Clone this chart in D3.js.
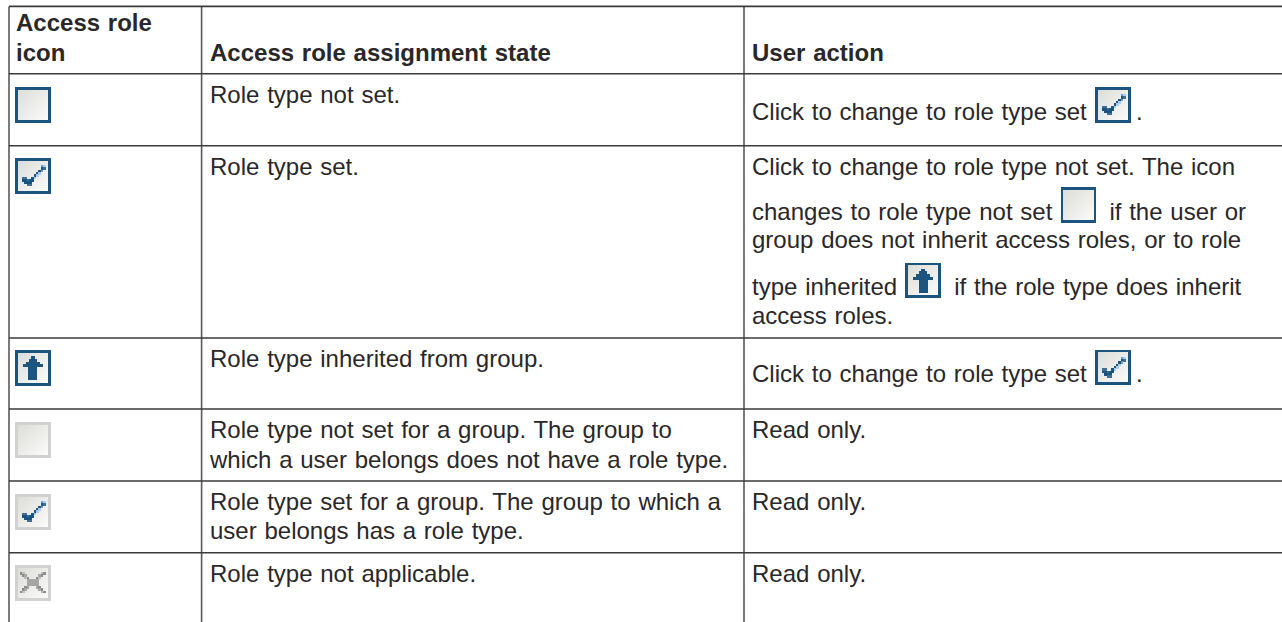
<!DOCTYPE html>
<html><head><meta charset="utf-8">
<script src="https://cdn.jsdelivr.net/npm/d3@7/dist/d3.min.js"></script>
<style>html,body{margin:0;padding:0;background:#fff}svg{display:block}
text{font-family:"Liberation Sans",Arial,sans-serif;font-size:24px;fill:#2a2728;word-spacing:1.1px;white-space:pre}</style>
</head><body><svg id="c" width="1282" height="622"></svg>
<script>
const headers = [["Access role","icon"],["Access role assignment state"],["User action"]];
const rowIcons = ["unset","set","inherit","gUnset","gSet","gNa"];
const stateLines = [["Role type not set."],["Role type set."],["Role type inherited from group."],
 ["Role type not set for a group. The group to","which a user belongs does not have a role type."],
 ["Role type set for a group. The group to which a","user belongs has a role type."],["Role type not applicable."]];
const actionLines = [
 [["Click to change to role type set ","set","."]],
 [["Click to change to role type not set. The icon"],["changes to role type not set ","unset"," if the user or"],["group does not inherit access roles, or to role"],["type inherited ","inherit"," if the role type does inherit"],["access roles."]],
 [["Click to change to role type set ","set","."]],
 [["Read only."]],[["Read only."]],[["Read only."]]];
const rowLines = [6.4,73.8,145.8,338,409,481,552.8];
const colLines = [9,201.6,744];

const svg = d3.select("#c");
const defs = svg.append("defs");
const grad = defs.append("linearGradient").attr("id","g").attr("x1",0).attr("y1",0).attr("x2",1).attr("y2",1);
grad.append("stop").attr("offset",0).attr("stop-color","#dcdcd8");
grad.append("stop").attr("offset",1).attr("stop-color","#fbfbfa");

const blue="#1c5480", grey="#d2d2d2", pale="#a9ccf5", mid="#6a9bd8", soft="#3f6f96";
const check=[[11,3,mid],[12,3,pale],[11,4,blue],[12,4,soft],[10,5,blue],[11,5,mid],[9,6,blue],[10,6,pale],[8,7,blue],[9,7,pale],
 [3,8,soft],[4,8,soft],[7,8,blue],[8,8,pale],[3,9,blue],[4,9,blue],[5,9,soft],[6,9,blue],[7,9,blue],[4,10,blue],[5,10,blue],[6,10,blue],[5,11,soft],[6,11,soft]];
const g1="#8c8c8c", g2="#a6a6a6", g3="#bdbdbd";
const cross=[[2,3,g1],[3,3,g3],[11,3,g3],[12,3,g1],[3,4,g1],[4,4,g2],[10,4,g2],[11,4,g1],[4,5,g3],[5,5,g1],[9,5,g1],[10,5,g3],
 [5,6,g2],[6,6,g2],[7,6,g2],[8,6,g2],[9,6,g2],[5,7,g2],[6,7,g2],[7,7,g2],[8,7,g2],[9,7,g2],[5,8,g2],[6,8,g2],[7,8,g2],[8,8,g2],[9,8,g2],
 [4,9,g1],[5,9,g2],[9,9,g2],[10,9,g1],[3,10,g1],[4,10,g2],[10,10,g2],[11,10,g1],[2,11,g1],[3,11,g3],[11,11,g3],[12,11,g1]];
function icon(x,y,kind){
  const g=svg.append("g").attr("transform",`translate(${x},${y})`).attr("shape-rendering","crispEdges");
  const active=["unset","set","inherit"].includes(kind);
  g.append("rect").attr("width",35.5).attr("height",35.5).attr("fill",active?blue:grey);
  g.append("rect").attr("x",2.6).attr("y",2.6).attr("width",30.3).attr("height",30.3).attr("fill","url(#g)");
  const u=35/15;
  const cells = (kind==="set"||kind==="gSet") ? check : kind==="gNa" ? cross : [];
  g.selectAll("rect.c").data(cells).join("rect").attr("class","c")
    .attr("x",d=>d[0]*u).attr("y",d=>d[1]*u).attr("width",u+.4).attr("height",u+.4).attr("fill",d=>d[2]);
  if(kind==="inherit") g.append("path").attr("d","M16 6H19.5V8.5H22V11.5H24.5V14H28V17H22.3V30H13.3V17H7.7V14H11V11.5H13.5V8.5H16Z").attr("fill",blue);
}

// lines
svg.selectAll("line.v").data(colLines).join("line").attr("class","v").attr("x1",d=>d).attr("x2",d=>d).attr("y1",rowLines[0]).attr("y2",622).attr("stroke","#5a5a5a").attr("stroke-width",1.6);
svg.selectAll("line.h").data(rowLines).join("line").attr("class","h").attr("x1",colLines[0]).attr("x2",1282).attr("y1",d=>d).attr("y2",d=>d).attr("stroke","#3a3a3a").attr("stroke-width",1.6);

// headers
const hx=[16,210,752], hy=[[31,61],[61],[61]];
headers.forEach((ls,i)=>ls.forEach((t,j)=>svg.append("text").attr("x",hx[i]).attr("y",hy[i][j]).style("font-weight","bold").text(t)));
// icons
const iconY=[87,158,350,422,494,565];
rowIcons.forEach((k,i)=>icon(15,iconY[i],k));
// state
const sy=[[103],[175],[367],[437.5,468],[510,539],[582]];
stateLines.forEach((ls,i)=>ls.forEach((t,j)=>svg.append("text").attr("x",210).attr("y",sy[i][j]).text(t)));
// action
const ay=[[119.5],[175,219.5,248,295,324],[382],[437.5],[510],[582]];
actionLines.forEach((ls,i)=>ls.forEach((parts,j)=>{
  let x=752; const y=ay[i][j];
  parts.forEach(p=>{
    if(["set","unset","inherit"].includes(p)){ icon(x+0.5,y-32.5,p); x+=41.5; }
    else { const t=svg.append("text").attr("x",x).attr("y",y).text(p); x+=t.node().getComputedTextLength(); }
  });
}));
</script></body></html>
